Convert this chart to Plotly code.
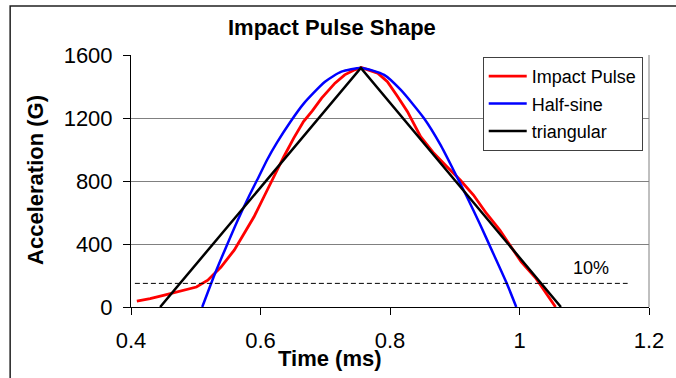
import plotly.graph_objects as go

# ---- data ----
pulse_t = [0.409, 0.4295, 0.450, 0.475, 0.501, 0.5186, 0.539, 0.5594, 0.5747, 0.590, 0.6053,
           0.620, 0.636, 0.6511, 0.6664, 0.680, 0.6944, 0.715, 0.730, 0.7455, 0.7556,
           0.781, 0.796, 0.8117, 0.827, 0.8473, 0.8678, 0.888, 0.9084, 0.9289, 0.949, 0.9696,
           0.990, 1.0027, 1.0257, 1.040, 1.051, 1.0557]
pulse_v = [38, 53, 74, 100, 127, 170, 254, 361, 467, 573, 700,
           825, 954, 1071, 1177, 1245, 1326, 1421, 1474, 1506, 1520,
           1485, 1431, 1336, 1240, 1081, 976, 891, 806, 711, 594, 488,
           361, 286, 180, 95, 30, 0]

sine_t = [0.510, 0.529, 0.5468, 0.5645, 0.5824, 0.5977, 0.6103, 0.6256, 0.646, 0.6664, 0.6996,
          0.725, 0.7555, 0.791, 0.8167, 0.8525, 0.878, 0.898, 0.9187, 0.939, 0.9595,
          0.9798, 0.995]
sine_v = [0, 205, 380, 548, 705, 830, 935, 1045, 1175, 1290, 1430,
          1494, 1518, 1474, 1378, 1198, 1029, 870, 700, 525, 340,
          155, 0]

tri_t = [0.445, 0.755, 1.064]
tri_v = [0, 1517, 0]

ref_t = [0.406, 1.167]
ref_v = [150, 150]

x_ticks = [0.4, 0.6, 0.8, 1.0, 1.2]
x_ticktext = ["0.4", "0.6", "0.8", "1", "1.2"]
y_ticks = [0, 400, 800, 1200, 1600]

FONT = "Arial, Liberation Sans, sans-serif"

fig = go.Figure()
fig.add_trace(go.Scatter(x=pulse_t, y=pulse_v, mode="lines", name="Impact Pulse",
                         line=dict(color="#ff0000", width=2.8), legendgroup="a"))
fig.add_trace(go.Scatter(x=sine_t, y=sine_v, mode="lines", name="Half-sine",
                         line=dict(color="#0000ff", width=2.5, shape="spline", smoothing=0.6),
                         legendgroup="b"))
fig.add_trace(go.Scatter(x=tri_t, y=tri_v, mode="lines", name="triangular",
                         line=dict(color="#000000", width=2.5), legendgroup="c"))
fig.add_trace(go.Scatter(x=ref_t, y=ref_v, mode="lines", showlegend=False,
                         line=dict(color="#000000", width=1, dash="5px,3px"), cliponaxis=False))

fig.update_layout(
    width=676, height=378,
    margin=dict(l=131, r=22, t=55, b=71),
    paper_bgcolor="white", plot_bgcolor="white",
    font=dict(family=FONT, color="black"),
    showlegend=True,
    legend=dict(x=0.679, y=0.992, xanchor="left", yanchor="top",
                bgcolor="white", bordercolor="#404040", borderwidth=1,
                font=dict(size=18, family=FONT), traceorder="grouped", tracegroupgap=1,
                itemwidth=38),
    xaxis=dict(range=[0.4, 1.2], tickvals=x_ticks, ticktext=x_ticktext,
               showgrid=False, zeroline=False, showline=True, linecolor="black", linewidth=1,
               ticks="outside", ticklen=7, tickcolor="black",
               tickfont=dict(size=22, family=FONT), ticklabelstandoff=7),
    yaxis=dict(range=[0, 1600], tickvals=y_ticks,
               showgrid=True, gridcolor="#808080", gridwidth=1, zeroline=False,
               showline=True, linecolor="black", linewidth=1,
               ticks="outside", ticklen=7, tickcolor="black",
               tickfont=dict(size=22, family=FONT), ticklabelstandoff=6),
    annotations=[
        dict(text="<b>Impact Pulse Shape</b>", xref="paper", yref="paper", x=0.388, y=1.111,
             showarrow=False, font=dict(size=22, family=FONT), xanchor="center", yanchor="middle"),
        dict(text="<b>Time (ms)</b>", xref="paper", yref="paper", x=0.384, y=-0.2024,
             showarrow=False, font=dict(size=22, family=FONT), xanchor="center", yanchor="middle"),
        dict(text="<b>Acceleration (G)</b>", xref="paper", yref="paper", x=-0.1836, y=0.504,
             showarrow=False, font=dict(size=22, family=FONT), textangle=-90,
             xanchor="center", yanchor="middle"),
        dict(text="10%", xref="x", yref="y", x=1.11, y=250, showarrow=False,
             font=dict(size=18, family=FONT), xanchor="center", yanchor="middle"),
    ],
    shapes=[
        dict(type="line", xref="paper", yref="paper", x0=1, x1=1, y0=0, y1=1,
             line=dict(color="#808080", width=1)),
        dict(type="rect", xref="paper", yref="paper", x0=-0.2333, x1=1.3, y0=-0.6, y1=1.194,
             line=dict(color="#202020", width=1.5), fillcolor="rgba(0,0,0,0)", layer="below"),
    ],
)

fig.write_html("out.html")
